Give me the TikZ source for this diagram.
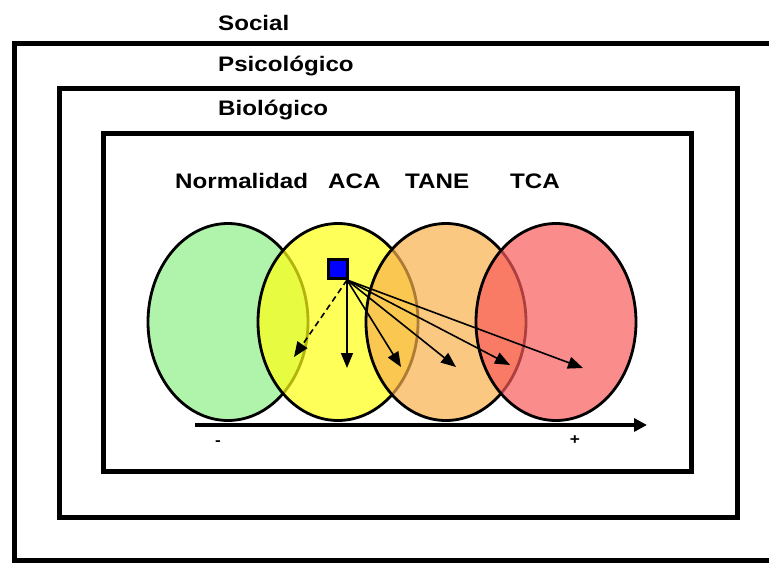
\documentclass[tikz,border=0pt]{standalone}
\usepackage{fontspec}
\setmainfont{Liberation Sans}[FakeStretch=1.15]
\usetikzlibrary{arrows.meta,shapes.geometric}

\definecolor{verde}{RGB}{176,244,172}
\definecolor{amarillo}{RGB}{255,255,20}
\definecolor{naranja}{RGB}{248,176,76}
\definecolor{rojo}{RGB}{248,91,91}

\newcommand\titulostyle{\fontsize{21}{25}\selectfont\bfseries}
\newcommand\signostyle{\fontsize{15}{18}\selectfont\bfseries}
\newcommand\capastyle{[line width=5pt]}
\newcommand\capa[6]{
  \draw (#1, #2)\capastyle rectangle (#3, #4) ;
  \node[anchor=base west, inner sep=0] (#5) at (218, #2 - #6) {\titulostyle #5} ;
}

\tikzset{
  fase/.style={ellipse, draw, line width=2.8pt, fill opacity=.7,
    minimum width=160pt, minimum height=197pt},
  flecha/.style={line width=1.6pt, -{Triangle[length=15pt,width=12pt]}},
  nombre/.style={anchor=base west, inner sep=0},
}

\begin{document}
\begin{tikzpicture}[x=1pt, y=-1pt]
    \useasboundingbox (0, 0) rectangle (769, 563) ;
    \capa{14}{43}{800}{560}{Social}{13}
    \capa{59}{88}{737}{517}{Psicológico}{17}
    \capa{103}{133}{691}{471}{Biológico}{18}
    \node[nombre] (normalidad) at (175, 188) {\titulostyle Normalidad} ;
    \node[nombre] (aca) at (328, 188) {\titulostyle ACA} ;
    \node[nombre] (tane) at (405, 188) {\titulostyle TANE} ;
    \node[nombre] (tca) at (510, 188) {\titulostyle TCA} ;
    \node[fase, fill=verde, fill opacity=1] (e1) at (228, 322) {} ;
    \node[fase, fill=amarillo] (e2) at (338, 322) {} ;
    \node[fase, fill=naranja] (e3) at (446, 322) {} ;
    \node[fase, fill=rojo] (e4) at (556, 322) {} ;
    \node[draw, line width=3pt, fill=blue, inner sep=0, minimum size=19pt] (sq) at (338, 269) {} ;
    \coordinate (o) at ([xshift=-2pt]sq.south east) ;
    \coordinate (p1) at (294, 357) ;
    \coordinate (p2) at (347, 368) ;
    \coordinate (p3) at (401, 367) ;
    \coordinate (p4) at (456, 367) ;
    \coordinate (p5) at (510, 365) ;
    \coordinate (p6) at (583, 368) ;
    \draw[flecha, dash pattern=on 6pt off 4pt] (o) -- (p1) ;
    \draw[flecha] (o) -- (p2) ;
    \draw[flecha] (o) -- (p3) ;
    \draw[flecha] (o) -- (p4) ;
    \draw[flecha] (o) -- (p5) ;
    \draw[flecha] (o) -- (p6) ;
    \coordinate (ejeini) at (195, 425) ;
    \coordinate (ejefin) at (647, 425) ;
    \draw[line width=3.5pt, -{Triangle[length=13pt,width=13pt]}] (ejeini) -- (ejefin) ;
    \node (menos) at (218, 443) {\signostyle -} ;
    \node (mas) at (575, 440) {\signostyle +} ;
  \end{tikzpicture}
\end{document}
